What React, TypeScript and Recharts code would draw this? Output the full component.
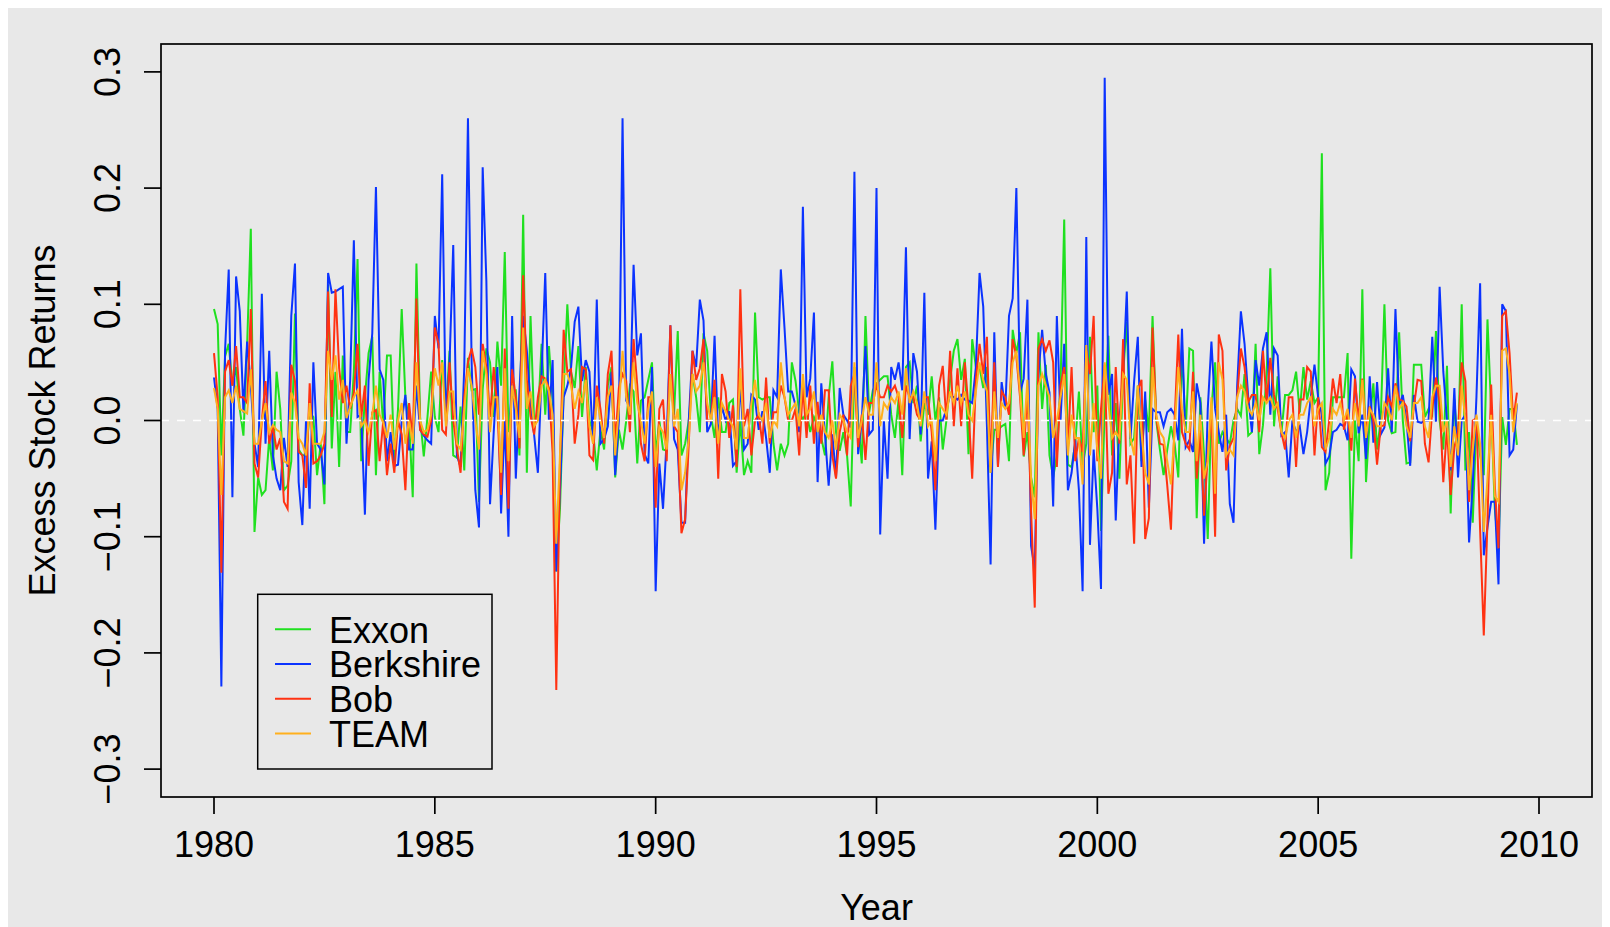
import React from 'react';
import { LineChart, Line, XAxis, YAxis, ReferenceLine } from 'recharts';

// monthly excess returns, in percent, Jan 1980 .. Jul 2009 (one row per year)
const exxon = [
  9.6, 8.3, -3, 5.5, 6.6, 3, 4.6, 1, -1.3, 6.5, 16.5, -9.6,
  -4.9, -6.4, -6, -1.5, -4.3, 4.2, 1, -6, -5.6, -3.5, 9.2, -2.5,
  -3, -3, 0.7, 0.3, -4.7, -2, -7.2, 11.7, -2.4, 4.2, -4, 5.6,
  -1, -1, 4.2, 13.9, -3.5, 2, 5.8, 7.2, -4.7, 4.2, -0.5, 5.6,
  5.6, -3.5, 1, 9.6, 2, 0, -6.6, 13.5, 0.3, -3.1, 0.3, 4.2,
  0.3, -1, 5.2, 0.5, 6, -3, -3.2, 1.2, -4.3, 5.4, 2.6, 2.7,
  -7, 2.7, 6.2, 5, 0.3, 6.8, 3, 14.5, -1, 2.6, 2.6, -3,
  17.7, -4.5, 9, -0.4, 0.1, 6.6, 0.5, 6.4, 1.8, -13, -7.6, 2.6,
  10, 4.2, 2.8, 6.4, 0.3, 4.6, 0, -1, -4.3, -0.8, -2.5, 3,
  4.6, -4.9, -0.8, -2.5, 0, 3, 2.5, -3.7, 1.7, 2, 3.5, 5,
  -3, 0, -2.5, -2.6, 4, 0.5, 7.7, -3, -2, 0, 4, 2,
  -1, 7.5, 6, 0.5, -1.5, 2, -1, -1, 1.5, 1.8, -4.5, 0,
  -4.7, -3.5, -4.5, 9.3, 2, 1.8, 2, 2, -2, -4.3, -2, -3,
  -2, 5, 3.4, 0.7, 0.1, 0.7, -1, 0.3, -0.5, -1.5, -3, 2,
  5.1, -1, -2.6, -1, -3, -7.4, 4.6, 0, -3.7, 9, 0.7, 2.6,
  3.2, 3.5, 3.8, 3.8, 0.5, -1.5, 1.8, -4.7, 4.6, 5, 1.5, 3,
  -1.8, 1.5, 0.5, 3.8, 0, 2, -2.5, 0, 3.5, 6, 7, 3.5,
  5.3, -2.9, 7, 4.6, 4.6, 2.8, 4.6, -4.5, -0.8, -0.8, -0.5, -0.3,
  -3.5, 7.8, 5.8, 7.6, -3.1, -1, -4.9, -6.6, 7.6, 1, 4.8, -3,
  -4.9, -3, 3, 17.3, -3.8, -4, -2, 2.5, -4, -2, 7.2, -1,
  3, -9.5, 1, 7.3, -3, 1.5, -5, 4, 8.5, -2, -1.5, 3,
  -3.5, 1.8, -1, 9, 0, -2.5, -4.7, -2.5, -0.5, -2, -4.9, 6.2,
  -1, 6.2, 6, -8.4, 2, -3, -10.2, 1, 5, -2, -1, -1.5,
  -2, 0, 1, 0.4, 4, -1.3, -1, 6.6, -2.9, -0.4, 4, 13.1,
  -0.5, 3.8, -1.1, 2.2, 2.2, 2.6, 4.2, 0.7, 4.6, 1.8, 3.4, 1.5,
  2, 23, -6, -4.5, 2, 2, 2, 2, 5.8, -11.9, 0, -3.5,
  11.3, -5.3, 0, 3.2, -2.5, 0, 10, 0, -1.1, -1, 7.6, 0,
  -3.7, -3.6, 4.8, 4.8, 4.8, 0.3, 1, 0.5, 7.7, 0, -2.5, 4.7,
  -8, 1.8, -2.5, 10, -4.3, -1, -8.8, 0, -3, -4.7, 8.7, 0.9,
  -7.6, -11, 0.3, -2.1, 1, 1, -2.1,
];

const berkshire = [
  3.7, 1, -22.9, 6, 13, -6.6, 12.4, 9.4, 0.7, 6.8, 3, -2,
  -4, 10.9, -2, 6, -3, -5, -6, -1.5, -4, 9, 13.5, -5.3,
  -9, 0, -7.6, 5, -2, -2.5, -5.5, 12.7, 11, 11.1, 11.3, 11.5,
  -2, 3.5, 15.5, 0.3, 0.5, -8.1, 3.5, 7.5, 20.1, 4.4, 3.5, -3.5,
  -1, -3.9, -3.8, 0, 2.2, -2.5, -2.5, 3, -0.8, -1.3, -1.7, -2,
  9, 6.2, 21.2, 0, 5, 15.1, -3, -4, 4.6, 26, 5, -6,
  -9.2, 21.8, 12, -7.2, -1, 4.6, -8, 0, -10, 9, -5, 2.6,
  9, 6, 1.5, -1.3, -4.5, 4, 12.7, 0, 5.2, -13, -6, 2,
  3, 4.5, 8.5, 9.8, 3.4, 5.2, 4.2, -2, 10.4, -2, -1.6, -0.5,
  4.2, -4.7, 0, 26, 1.7, 1.2, 13.4, 5.6, 7.5, -2.9, -3.7, 4.6,
  -14.7, -3.7, -7.6, -1.6, 8.2, -1.6, -2.5, -8.8, -8.8, 0, 6, 4.6,
  10.4, 8.6, -1, -0.3, 7.3, -1.6, 1.2, 0, 0.8, -3.9, -3.5, 3.4,
  -2.5, -2, 2.2, 1.8, -0.8, 0.8, -1.5, -4.5, 2.6, 2, 13, 8,
  2.5, 2.5, 1.3, -1, 18.4, 2, 3.6, 9.3, -5.3, 3.2, -1.2, -5.6,
  -1.2, -4.9, 2.8, 0.5, 0, -0.6, 21.4, -2.9, 0, 6.4, -1.2, -0.8,
  20, -9.8, 0, -5, 4.6, 3.5, 5, 2.6, 14.9, -1.6, 5.8, 4.2,
  -1.2, 11, -5, -1.8, -9.4, 0, 0, 1, 2.2, 2, 1.8, 2.2,
  1.8, 1.7, 1.5, 4.6, 12.7, 9.8, -0.4, -12.4, 7.6, -3.9, 3.3, 1,
  9, 10.5, 20, 2.4, 3.6, 10.4, -10.8, -12.8, 4, 7.8, 4, 2.4,
  -7.4, 9, 0, 6.6, -6, -4.5, -1.7, -6, -14.7, 15.8, -10.7, -2.5,
  -7.6, -14.5, 29.5, 2.2, 4, -8.6, 0, 4, 11.1, -1.6, 3.4, 7.2,
  -4, 2.5, -7.5, 1, 0.7, 0.7, -0.5, 0.7, 1, 0.5, -1.7, 7.9,
  -2.3, -1.7, -2.7, 3.2, 1.5, -10.6, 1, 6.8, 1, -1, -2.7, 0.5,
  -7.2, -8.8, 3, 9.4, 6.6, 2, -1, 5.2, 3, 6.2, 7.6, 0.5,
  6.2, 5.6, -1.3, -1, -4.9, 0, -1, -0.5, -2.9, -1, 2, 4.8,
  2, 0.5, -3.7, -3.1, -1, -0.8, -0.3, -0.5, -1.7, 4.4, 3.8, -1.1,
  0.5, -3.3, 3.8, -1.9, 3.3, -1.2, -0.6, 4.5, -1, 9.6, 1.3, 2.2,
  0, -3.9, 2.2, -0.1, -0.2, 0, 0, 7.2, -0.1, 11.5, 4.2, 0,
  -4.3, 2.8, -4.9, 0, 0.5, -10.5, -5.5, 2, 11.8, -11.6, -9.2, -7,
  -7, -14.1, 10, 9.4, -3, -2.5, 1.4,
];

const bob = [
  5.8, 2, -13.1, 4.2, 5.2, 3, 6.4, 2, 2, 1.5, 9.6, -3.7,
  -4.9, 0, 3.4, -2, -0.5, -2.5, -1.5, -7, -7.6, 4.8, 3.4, -2.7,
  -3, -5.8, 3.2, -3.7, -3.5, -3, -2, 11.1, 0.3, 11.3, 4.5, 1.5,
  3, 1, 2.4, 6.6, 0.3, 3, -3.9, 0.7, 0.9, -3.5, 0, -4.7,
  -2, -4.5, 0, -1.2, -6, 1.5, -1.6, 10.5, -0.8, -1.2, -1.4, 0,
  8, 6.6, -0.8, -1.2, 5, 0, -2.4, -4.5, 2, 5, 6.2, 4.6,
  0.5, 6.6, 4.6, 0.3, 4.6, 1, -6.4, 6.2, -7.6, 4.4, 2, -2.4,
  12.5, 3.5, 0.4, -1.2, 2, 3.8, 3.6, 2.8, -2.8, -23.2, -3.7, 7.8,
  4.2, 4.4, -2, 0.5, 4.6, 4.4, -3, -3.4, 3, 1, -2, 4,
  6, -2, 2.8, 4, 3.4, -1, 7, 3, -2, -3.5, 2, 2,
  -7.5, 1, 1.8, -3.5, 8.2, -0.5, -1, -9.7, -8.5, -2, 6, 3.5,
  4.5, 7, 0, 0, 3.5, -5, 4, 2.5, -1.5, 1.3, -4, 11.3,
  -0.5, 1, -3, 0, 0.5, -2, 3.7, -2, 0.7, 0.7, 3, 2,
  0, 0, 1, -3, 3, -1.5, 3, -2, 1.6, -2, 2.6, 2.6,
  -3, -5, -1, 0.5, -3, 3, 4, -2.3, 0.5, -3.4, 1.5, 1.5,
  3, 2, 2, 3, 2.5, 3, 2, -1.5, 3, 2, 2, 0.5,
  0, 2, 2, -1, -6, 3, 4.7, 0, 6, -0.5, 4.5, -0.5,
  5, 1, -5, 3.5, 6.6, 4, 7.2, -4, 5, -4, 2.5, 2,
  0.5, 7, 5.5, 2, -3, 2.6, -7.8, -16.1, 6.2, 7, 6, 6.9,
  5, -4, 3, 4.6, -2.5, 4.6, -3.5, -1.5, -2.7, 6, 4, 9,
  -3.5, 1, 4.8, -6.3, -4.5, 4.6, -2, 7, -5.5, -3, -10.6, 2.6,
  3.5, -10.2, -8.4, 8, 0.3, -2, -2.1, -5.6, -9.4, 0, 7.4, -1,
  -2, -2.5, 4.2, -5, -1, -8.2, -3, 0.7, -10, 7.4, 6, -4.3,
  -2.2, -1.5, 2, 6.2, 4.6, 1.6, 2.2, 2.2, -1, 6, 1.6, 5.4,
  2.2, 1, -1, -2.5, 2, 2, -4, 1.8, 1.8, 4.6, 4.2, -3,
  2, -2.3, -2.7, 0, 3.6, 1.5, 4, -0.8, 0.7, -2.6, 3.6, 0,
  3.6, -1, 1.2, 0, -3.8, -0.5, -0.4, 2, 1.2, 3.2, 1.8, 1.7,
  1.2, -1.8, 1.2, 3.5, 3.4, -2, -3.6, 1, 3.7, 1.6, -5.3, -0.6,
  -6.4, -2.3, -1, 5, 3.4, -7, 0, 0.2, -9.4, -18.5, -8.7, 3.1,
  -5.6, -11, 9, 9.4, 5.8, 0, 2.4,
];

const team = [
  2.8, 1, -6.4, 2, 2.6, 1.5, 3, 1, 0.8, 0.6, 4.4, -2,
  -2, 0, 1.5, -1, -0.4, -0.8, -1, -3.5, -3.7, 2.4, 1.5, -1.5,
  -2, -3, 1.5, -2, -2, -2, -1, 6, 3.5, 5.6, 1.8, 3.5,
  0.2, 1.2, 2, 2.6, -0.5, 0, -1, 0.5, 3, 0.5, -0.2, -1.5,
  0.5, -2.5, 0, 1.5, -2, 0, -2, 5, 0, -1, -0.8, 0.5,
  4.5, 3, 5, -0.5, 2.5, 2.5, -2, -2.5, 1, 4.5, 3, 0,
  -2.5, 6, 4, -1, 2, 2, -4.5, 4.5, -3.5, 3, 1, -1.5,
  8, 1, 2.5, -0.5, 0, 3, 3.5, 2.5, 0.5, -10.6, -3, 4,
  4, 3, 1, 2.5, 1.5, 3.5, -0.5, -2, 2, 0, -1.5, 2,
  3, -3, 1, 6, 2, 0.5, 5, 1.5, 0, -2, 1, 2.5,
  -4, -0.5, -1, -2.5, 4, -0.5, 1, -6, -4.5, -1.5, 4, 2.5,
  3, 5, 1.5, 0, 2, -2, 1.5, 0.8, 0, -0.5, -2.5, 4.5,
  -1.5, -1.5, 1.5, 3.5, 0.5, 0, 1.5, -1.5, 0, -0.5, 5, 2,
  0.5, 1, 1.5, -0.5, 4, 0.5, 1, 2.5, -1, 0.5, -1, -1.5,
  0, -2.5, 0.5, 0, -1, -1.5, 5, -1.5, 0, 2, 0.5, 0.5,
  5, -0.5, 1.5, 1, 2, 1.5, 2.5, 0.5, 4.5, 1.5, 2.5, 1.5,
  -0.5, 2.5, -0.5, 0, -3.5, 1.5, 1, 0.5, 2.5, 1.5, 3, 1.5,
  2.5, 0.5, 0, 2.5, 5, 3.5, 2.5, -4.5, 2.5, -1.5, 1.5, 1,
  1.5, 5, 6, 2.5, -1.5, 3.5, -5, -8.5, 3, 4, 3, 2,
  -1.5, 0, 2, 4, -3, 0.5, -1.5, -1.5, -5.5, 6.5, -3, 1.5,
  -2.5, -5, 5, 1.5, -1.5, -1, -1.5, 4, 3.5, -1.5, -3, 3,
  -1, -4.5, -5.5, 4.6, 0.5, -1, -1.5, -3.5, -5.5, -1, 4.6, 1,
  -1, -1, 2.5, -3.5, 0.5, -5, -3.5, 2, -6.3, 5, 3.5, -3,
  -2.5, -3, 2, 3, 2.5, 1, 0.5, 1.5, 0, 2, 1.5, 2,
  1, 1.5, -1, -1.5, 0, 0.5, -1.5, 0.5, 0.5, 1.5, 2, -0.5,
  1, 1.5, -2.5, -1.5, 1, 0.5, 1.5, 0, 1, -1.5, 1.5, -0.5,
  3.5, -1.5, 1, 0.5, -0.5, -0.5, 1.5, 1, 0, 3, 1, 1.5,
  -0.5, -1.5, 1.5, 1.5, 2, -0.5, -1.5, 2, 3, 3, -1, 0,
  -4, -0.5, -3, 3, 0, -6, -2.5, 0.5, -2, -9.6, -5, 0.5,
  -6.5, -7, 6, 6.2, 4, -1, 1.5,
];

const yearTicks = [1980, 1985, 1990, 1995, 2000, 2005, 2010];
const returnTicks = [-0.3, -0.2, -0.1, 0, 0.1, 0.2, 0.3];

const SERIES = [
  { key: 'exxon', name: 'Exxon', color: '#1fe01f' },
  { key: 'berkshire', name: 'Berkshire', color: '#0b33ff' },
  { key: 'bob', name: 'Bob', color: '#ff3212' },
  { key: 'team', name: 'TEAM', color: '#ffb01e' },
];

const data = exxon.map((v, i) => ({
  t: 1980 + i / 12,
  exxon: v / 100,
  berkshire: berkshire[i] / 100,
  bob: bob[i] / 100,
  team: team[i] / 100,
}));

const FONT = '"Liberation Sans", Arial, Helvetica, sans-serif';
const W = 1602;
const H = 919;
// plot rectangle inside the chart svg
const PLOT = { left: 153, top: 36, right: 1584, bottom: 789 };

const XTick = ({ x, payload }: any) => (
  <text x={x} y={849} textAnchor="middle" fontSize={36} fontFamily={FONT} fill="#000">
    {payload.value}
  </text>
);

const YTick = ({ y, payload }: any) => {
  const v = payload.value as number;
  const label = (v < 0 ? '\u2212' : '') + Math.abs(v).toFixed(1);
  return (
    <text transform={`translate(112, ${y}) rotate(-90)`} textAnchor="middle" fontSize={36} fontFamily={FONT} fill="#000">
      {label}
    </text>
  );
};

export default function App() {
  const legendTop = 621.3;
  const rowGap = 34.7;
  return (
    <div style={{ position: 'relative', width: W, height: H, background: '#e8e8e8' }}>
      <LineChart
        width={W}
        height={H}
        data={data}
        margin={{ top: PLOT.top, right: W - PLOT.right, bottom: 0, left: 0 }}
      >
        <XAxis
          dataKey="t"
          type="number"
          domain={[1978.8, 2011.2]}
          ticks={yearTicks}
          allowDataOverflow
          axisLine={false}
          tickLine={{ stroke: '#000', strokeWidth: 1.7 }}
          tickSize={17}
          height={H - PLOT.bottom}
          tick={<XTick />}
        />
        <YAxis
          type="number"
          domain={[-0.324, 0.324]}
          ticks={returnTicks}
          allowDataOverflow
          axisLine={false}
          tickLine={{ stroke: '#000', strokeWidth: 1.7 }}
          tickSize={17}
          width={PLOT.left}
          tick={<YTick />}
        />
        {SERIES.map((s) => (
          <Line
            key={s.key}
            dataKey={s.key}
            type="linear"
            stroke={s.color}
            strokeWidth={2}
            dot={false}
            isAnimationActive={false}
          />
        ))}
        <ReferenceLine y={0} stroke="#ffffff" strokeWidth={1.5} strokeDasharray="8 8" />
      </LineChart>

      <svg
        width={W}
        height={H}
        style={{ position: 'absolute', left: 0, top: 0, pointerEvents: 'none' }}
      >
        <rect
          x={PLOT.left}
          y={PLOT.top}
          width={PLOT.right - PLOT.left}
          height={PLOT.bottom - PLOT.top}
          fill="none"
          stroke="#000"
          strokeWidth={1.7}
        />
        <text x={(PLOT.left + PLOT.right) / 2} y={912} textAnchor="middle" fontSize={36} fontFamily={FONT} fill="#000">
          Year
        </text>
        <text
          transform={`translate(47, ${(PLOT.top + PLOT.bottom) / 2}) rotate(-90)`}
          textAnchor="middle"
          fontSize={36}
          fontFamily={FONT}
          fill="#000"
        >
          Excess Stock Returns
        </text>

        {/* legend */}
        <rect x={249.7} y={586.3} width={234.3} height={174.7} fill="none" stroke="#000" strokeWidth={1.5} />
        {SERIES.map((s, k) => (
          <g key={s.key}>
            <line x1={267} x2={303} y1={legendTop + k * rowGap} y2={legendTop + k * rowGap} stroke={s.color} strokeWidth={2} />
            <text x={321} y={legendTop + 13.4 + k * rowGap} fontSize={36} fontFamily={FONT} fill="#000">
              {s.name}
            </text>
          </g>
        ))}
      </svg>
    </div>
  );
}
